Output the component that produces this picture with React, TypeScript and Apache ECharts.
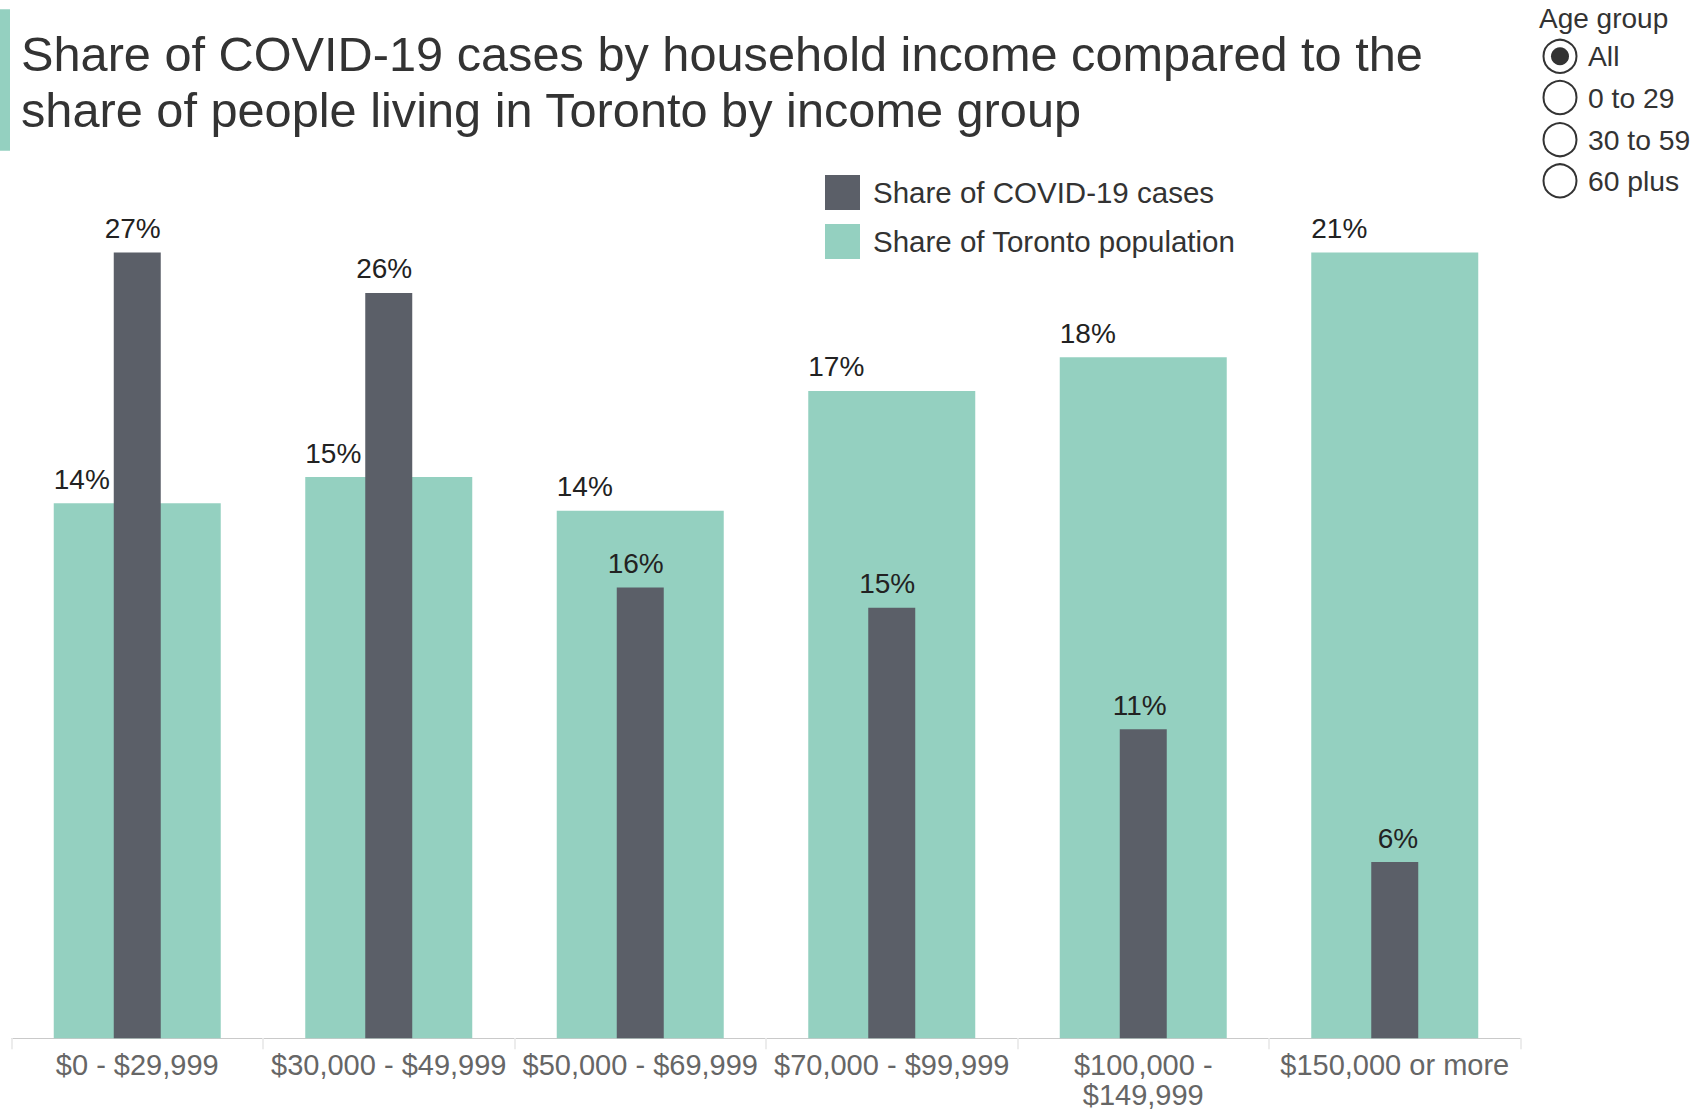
import React, { useEffect, useRef } from "react";
import * as echarts from "echarts";

const FONT = "'Liberation Sans', Arial, sans-serif";

const categories = [
  "$0 - $29,999",
  "$30,000 - $49,999",
  "$50,000 - $69,999",
  "$70,000 - $99,999",
  "$100,000 - $149,999",
  "$150,000 or more",
];
const populationShare = [14.3, 15.0, 14.1, 17.3, 18.2, 21.0];
const caseShare = [27.2, 25.8, 15.6, 14.9, 10.7, 6.1];
const ageGroups = ["All", "0 to 29", "30 to 59", "60 plus"];
const selectedAge = "All";

const CASES_NAME = "Share of COVID-19 cases";
const POP_NAME = "Share of Toronto population";
const TITLE =
  "Share of COVID-19 cases by household income compared to the\nshare of people living in Toronto by income group";

const TEAL = "#94D0C0";
const DARK = "#5B5F68";

export default function App() {
  const ref = useRef<HTMLDivElement>(null);

  useEffect(() => {
    if (!ref.current) return;
    const chart = echarts.init(ref.current, undefined, { renderer: "svg" });

    const pct = (p: any) => Math.round(p.value) + "%";
    const radioY = [56.3, 97.5, 139.7, 180.8];
    const radioEls: any[] = [];
    radioEls.push({
      type: "text",
      x: 1539,
      y: 18,
      style: {
        text: "Age group",
        fontSize: 28,
        fontFamily: FONT,
        fill: "#333",
        verticalAlign: "middle",
        align: "left",
      },
    });
    ageGroups.forEach((g, i) => {
      radioEls.push({
        type: "circle",
        shape: { cx: 1560, cy: radioY[i], r: 16.5 },
        style: { fill: "#fff", stroke: "#333", lineWidth: 2 },
      });
      if (g === selectedAge) {
        radioEls.push({
          type: "circle",
          shape: { cx: 1560, cy: radioY[i], r: 9 },
          style: { fill: "#333" },
        });
      }
      radioEls.push({
        type: "text",
        x: 1588,
        y: radioY[i],
        style: {
          text: g,
          fontSize: 28.3,
          fontFamily: FONT,
          fill: "#333",
          verticalAlign: "middle",
          align: "left",
        },
      });
    });

    const option: any = {
      animation: false,
      backgroundColor: "#fff",
      textStyle: { fontFamily: FONT },
      title: {
        text: TITLE,
        left: 21,
        top: 26,
        padding: 0,
        textStyle: {
          fontSize: 48.7,
          lineHeight: 56,
          fontWeight: "normal",
          color: "#333",
          fontFamily: FONT,
        },
      },
      legend: {
        orient: "vertical",
        left: 825,
        top: 175,
        padding: 0,
        itemWidth: 35,
        itemHeight: 35,
        itemGap: 14,
        icon: "rect",
        data: [CASES_NAME, POP_NAME],
        textStyle: {
          fontSize: 29.5,
          color: "#333",
          fontFamily: FONT,
          padding: [0, 0, 0, 8],
        },
      },
      graphic: [
        {
          type: "rect",
          shape: { x: 0, y: 9.3, width: 10, height: 141.4 },
          style: { fill: TEAL },
        },
        ...radioEls,
      ],
      grid: {
        left: 11.5,
        right: 177.5,
        top: 252.5,
        bottom: 72.7,
        containLabel: false,
        outerBoundsMode: "none",
      },
      xAxis: [
        {
          type: "category",
          data: categories,
          position: "bottom",
          axisLine: {
            show: true,
            lineStyle: { color: "#c4c4c4", type: "dotted", width: 1 },
          },
          axisTick: {
            show: true,
            alignWithLabel: false,
            length: 11,
            lineStyle: { color: "#ececec", width: 2 },
          },
          axisLabel: {
            interval: 0,
            fontSize: 29,
            lineHeight: 30,
            color: "#666",
            margin: 12,
            fontFamily: FONT,
            formatter: (v: string) =>
              v.length > 18 ? v.replace(" - ", " -\n") : v,
          },
          splitLine: { show: false },
        },
        {
          type: "category",
          data: categories,
          show: false,
          position: "bottom",
        },
      ],
      yAxis: [
        {
          type: "value",
          min: 0,
          max: Math.max(...populationShare),
          show: false,
          splitLine: { show: false },
        },
        {
          type: "value",
          min: 0,
          max: Math.max(...caseShare),
          show: false,
          splitLine: { show: false },
        },
      ],
      series: [
        {
          name: POP_NAME,
          type: "bar",
          xAxisIndex: 0,
          yAxisIndex: 0,
          data: populationShare,
          barWidth: 167,
          itemStyle: { color: TEAL },
          label: {
            show: true,
            position: [0, -10],
            align: "left",
            verticalAlign: "bottom",
            formatter: pct,
            fontSize: 28,
            color: "#222",
            fontFamily: FONT,
          },
        },
        {
          name: CASES_NAME,
          type: "bar",
          xAxisIndex: 1,
          yAxisIndex: 1,
          data: caseShare,
          barWidth: 47,
          itemStyle: { color: DARK },
          label: {
            show: true,
            position: ["100%", -10],
            align: "right",
            verticalAlign: "bottom",
            formatter: pct,
            fontSize: 28,
            color: "#222",
            fontFamily: FONT,
          },
        },
      ],
    };

    chart.setOption(option);
    return () => chart.dispose();
  }, []);

  return (
    <div
      ref={ref}
      style={{ position: "fixed", left: 0, top: 0, width: 1698, height: 1111 }}
    />
  );
}
